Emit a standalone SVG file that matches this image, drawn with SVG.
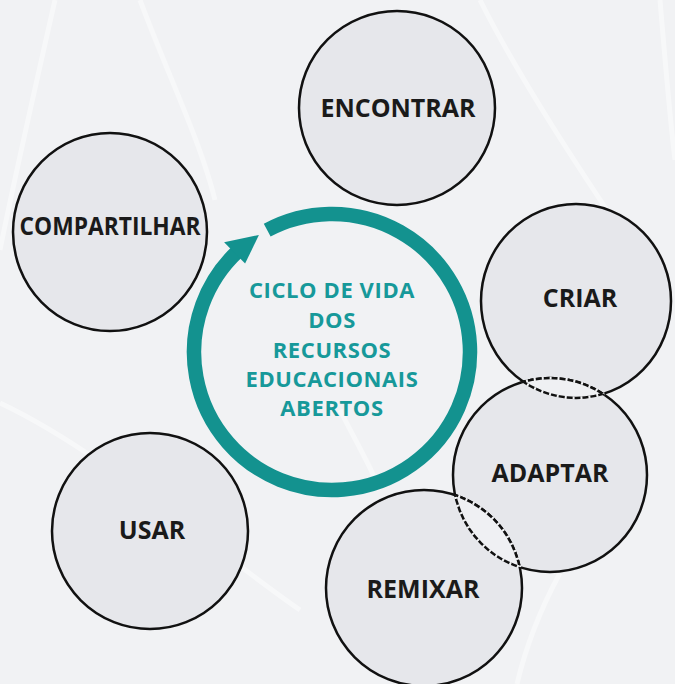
<svg xmlns="http://www.w3.org/2000/svg" width="675" height="684" viewBox="0 0 675 684">
<style>
.node{fill:#e6e7eb;stroke:#111;stroke-width:2.5}
.edge{fill:none;stroke:#111;stroke-width:2.5}
.lbl{font-family:"Open Sans","Noto Sans","Liberation Sans",sans-serif;font-weight:bold;font-size:25px;fill:#1a1a1a;text-anchor:middle}
.ctr{font-family:"Open Sans","Noto Sans","Liberation Sans",sans-serif;font-weight:bold;font-size:22px;letter-spacing:0.6px;fill:#17999a;text-anchor:middle}
.lens{fill:#eff0f3;stroke:none}
.dash{fill:none;stroke:#f1f2f4;stroke-width:3.2;stroke-dasharray:2 6}
.bg{fill:none;stroke:#ffffff;stroke-opacity:0.45;stroke-width:5}
</style>
<defs>
<clipPath id="cCriar"><ellipse cx="576" cy="301" rx="95" ry="97"/></clipPath>
<clipPath id="cAdapt"><circle cx="550" cy="475" r="97"/></clipPath>
<clipPath id="cRemix"><circle cx="424" cy="588" r="98"/></clipPath>
</defs>
<rect width="675" height="684" fill="#f1f2f4"/>
<g id="background">
<path class="bg" d="M140 0 C170 80 200 140 215 200"/>
<path class="bg" d="M55 0 C30 110 12 190 0 250"/>
<path class="bg" d="M480 0 C520 80 580 170 640 260"/>
<path class="bg" d="M0 403 C100 450 200 540 300 610"/>
<path class="bg" d="M340 410 C355 440 370 465 380 490"/>
<path class="bg" d="M560 573 C540 610 525 650 517 684"/>
<path class="bg" d="M660 0 C665 60 670 120 675 160"/>
</g>
<g id="connectors">
<path d="M267.2 230.2 A138 138 0 1 1 237.9 251.1" fill="none" stroke="#13928f" stroke-width="14.5"/>
<polygon points="258.9,235 224.1,242.2 245.1,263.6" fill="#13928f"/>
</g>
<g id="encontrar"><ellipse class="node" cx="397" cy="108" rx="98" ry="97"/><text class="lbl" x="398" y="117">ENCONTRAR</text></g>
<g id="compartilhar"><ellipse class="node" cx="110" cy="232" rx="97" ry="99"/><text class="lbl" x="110" y="235" textLength="181" lengthAdjust="spacingAndGlyphs">COMPARTILHAR</text></g>
<g id="usar"><ellipse class="node" cx="150" cy="531" rx="98" ry="98"/><text class="lbl" x="152" y="539">USAR</text></g>
<g id="criar"><ellipse class="node" cx="576" cy="301" rx="95" ry="97"/><text class="lbl" x="580" y="307">CRIAR</text></g>
<g id="adaptar"><circle class="node" cx="550" cy="475" r="97"/><text class="lbl" x="550" y="482">ADAPTAR</text></g>
<g id="remixar"><circle class="node" cx="424" cy="588" r="98"/><text class="lbl" x="423" y="598">REMIXAR</text></g>
<g id="overlaps">
<circle class="lens" cx="550" cy="475" r="97" clip-path="url(#cCriar)"/>
<circle class="edge" cx="550" cy="475" r="97" clip-path="url(#cCriar)"/>
<ellipse class="edge" cx="576" cy="301" rx="95" ry="97" clip-path="url(#cAdapt)"/>
<circle class="dash" cx="550" cy="475" r="97" clip-path="url(#cCriar)"/>
<ellipse class="dash" cx="576" cy="301" rx="95" ry="97" clip-path="url(#cAdapt)"/>
<circle class="lens" cx="424" cy="588" r="98" clip-path="url(#cAdapt)"/>
<circle class="edge" cx="424" cy="588" r="98" clip-path="url(#cAdapt)"/>
<circle class="edge" cx="550" cy="475" r="97" clip-path="url(#cRemix)"/>
<circle class="dash" cx="424" cy="588" r="98" clip-path="url(#cAdapt)"/>
<circle class="dash" cx="550" cy="475" r="97" clip-path="url(#cRemix)"/>
</g>
<g id="center">
<text class="ctr" x="332" y="298">CICLO DE VIDA</text>
<text class="ctr" x="332" y="328">DOS</text>
<text class="ctr" x="332" y="358">RECURSOS</text>
<text class="ctr" x="332" y="387">EDUCACIONAIS</text>
<text class="ctr" x="332" y="416">ABERTOS</text>
</g>
</svg>
